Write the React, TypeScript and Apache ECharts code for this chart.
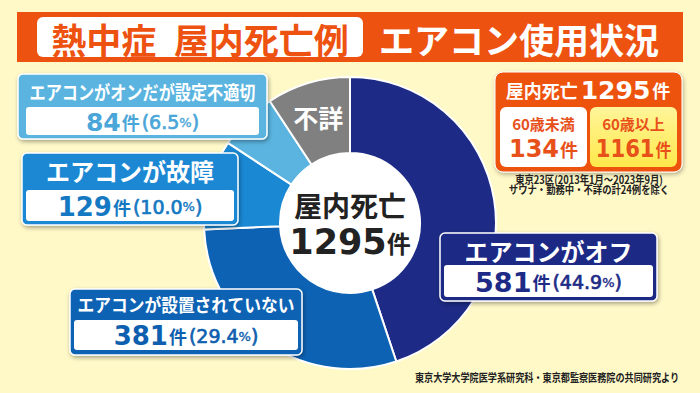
import React, { useEffect, useRef } from 'react';
import * as echarts from 'echarts';

// ---- data ----
const categories = ['エアコンがオフ', 'エアコンが設置されていない', 'エアコンが故障', 'エアコンがオンだが設定不適切', '不詳'];
const counts = [581, 381, 129, 84, 120];
const sliceColors = ['#1D2B86', '#0D62B4', '#1A88D3', '#5AB4DF', '#808080'];
const centerLabel = '屋内死亡';
const unit = '件';
const ageGroups = ['60歳未満', '60歳以上'];
const ageCounts = [134, 1161];
const titleLeft = '熱中症\u2002屋内死亡例';
const titleRight = 'エアコン使用状況';
const noteLines = ['東京23区(2013年1月～2023年9月)', 'サウナ・勤務中・不詳の計24例を除く'];
const sourceText = '東京大学大学院医学系研究科・東京都監察医務院の共同研究より';

const total = counts.reduce((a, b) => a + b, 0);
const pct = (v: number) => ((v / total) * 100).toFixed(1);

const JP = '"Noto Sans CJK JP", "Noto Sans", sans-serif';
const NUM = '"DejaVu Sans", sans-serif';
const ORANGE = '#EE5210';

type BoxSpec = {
  idx: number; x: number; y: number; w: number; h: number; fill: string; numColor: string;
  headFont: number; headScale: number; headY: number; inX: number; inY: number; inH: number; numSize: number;
};

const boxes: BoxSpec[] = [
  { idx: 0, x: 440, y: 233, w: 217, h: 68, fill: '#1D2B86', numColor: '#1D2B86', headFont: 24, headScale: 1, headY: 17, inX: 4, inY: 32, inH: 32, numSize: 27 },
  { idx: 1, x: 70, y: 289, w: 232, h: 66, fill: '#0D62B4', numColor: '#0E5FAF', headFont: 18, headScale: 0.93, headY: 15, inX: 4, inY: 31, inH: 30, numSize: 26 },
  { idx: 2, x: 22, y: 153, w: 216, h: 72, fill: '#1A88D3', numColor: '#1478C2', headFont: 24, headScale: 1, headY: 17, inX: 4, inY: 37, inH: 31, numSize: 26 },
  { idx: 3, x: 18, y: 74, w: 249, h: 65, fill: '#5AB4DF', numColor: '#4AA6D8', headFont: 19, headScale: 0.85, headY: 18, inX: 8, inY: 33, inH: 28, numSize: 25 },
];

const numTok = (size: number, color: string) => ({
  fontSize: size, fontWeight: 'bold', fontFamily: NUM, fill: color,
});

function buildGraphics() {
  const els: any[] = [];
  const center = { align: 'center', verticalAlign: 'middle', textAlign: 'center', textVerticalAlign: 'middle' };
  // title band
  els.push({ type: 'rect', z: 50, shape: { x: 17, y: 12, width: 666, height: 50 }, style: { fill: ORANGE } });
  els.push({ type: 'rect', z: 51, shape: { x: 37, y: 17, width: 326, height: 40, r: 6 }, style: { fill: '#fff' } });
  els.push({
    type: 'text', z: 52, x: 200, y: 38,
    style: { text: titleLeft, fill: ORANGE, fontSize: 35, fontWeight: 'bold', fontFamily: JP, ...center },
  });
  els.push({
    type: 'text', z: 52, x: 519, y: 38,
    style: { text: titleRight, fill: '#fff', fontSize: 35, fontWeight: 'bold', fontFamily: JP, ...center },
  });

  // category boxes
  boxes.forEach((b) => {
    const v = counts[b.idx];
    els.push({
      type: 'rect', z: 60, shape: { x: b.x, y: b.y, width: b.w, height: b.h, r: 5 },
      style: { fill: b.fill, stroke: '#fff', lineWidth: 1.5, shadowBlur: 4, shadowColor: 'rgba(0,0,0,0.35)', shadowOffsetX: 1, shadowOffsetY: 2 },
    });
    els.push({ type: 'rect', z: 61, shape: { x: b.x + b.inX, y: b.y + b.inY, width: b.w - 2 * b.inX, height: b.inH, r: 3 }, style: { fill: '#fff' } });
    els.push({
      type: 'text', z: 62, x: b.x + b.w / 2, y: b.y + b.headY, scaleX: b.headScale,
      style: { text: categories[b.idx], fill: '#fff', fontSize: b.headFont, fontWeight: 'bold', fontFamily: JP, ...center },
    });
    els.push({
      type: 'text', z: 62, x: b.x + b.w / 2, y: b.y + b.inY + b.inH / 2 + 1,
      style: {
        text: `{n|${v}}{k|${unit}}{p|(${pct(v)}}{s|%}{p|)}`,
        ...center,
        rich: {
          n: numTok(b.numSize, b.numColor),
          k: { fontSize: 18, fontWeight: 'bold', fontFamily: JP, fill: b.numColor, padding: [0, 2, 0, 1] },
          p: { fontSize: 19, fontWeight: 'normal', fontFamily: NUM, fill: b.numColor, stroke: b.numColor, lineWidth: 0.7 },
          s: { fontSize: 13, fontWeight: 'normal', fontFamily: NUM, fill: b.numColor, stroke: b.numColor, lineWidth: 0.4 },
        },
      },
    });
  });

  // right info box
  els.push({
    type: 'rect', z: 60, shape: { x: 495, y: 72, width: 187, height: 100, r: 8 },
    style: { fill: ORANGE, stroke: '#fff', lineWidth: 1, shadowBlur: 4, shadowColor: 'rgba(0,0,0,0.3)', shadowOffsetX: 1, shadowOffsetY: 2 },
  });
  els.push({
    type: 'text', z: 62, x: 588, y: 90,
    style: {
      text: `{a|${centerLabel}}{n|${total}}{k|${unit}}`,
      ...center,
      rich: {
        a: { fontSize: 18, fontWeight: 'bold', fontFamily: JP, fill: '#fff', padding: [0, 3, 0, 0] },
        n: numTok(25, '#fff'),
        k: { fontSize: 18, fontWeight: 'bold', fontFamily: JP, fill: '#fff', padding: [0, 0, 0, 2] },
      },
    },
  });
  const ageBoxX = [500, 590];
  ageGroups.forEach((g, i) => {
    const bx = ageBoxX[i];
    const fill = i === 0 ? '#fff' : new echarts.graphic.LinearGradient(0, 0, 0, 1, [
      { offset: 0, color: '#FFF59A' }, { offset: 1, color: '#FFE84A' },
    ]);
    els.push({ type: 'rect', z: 61, shape: { x: bx, y: 107, width: 87, height: 60, r: 6 }, style: { fill } });
    els.push({
      type: 'text', z: 62, x: bx + 43.5, y: 123,
      style: { text: g, fill: '#E8501A', fontSize: 15, fontWeight: 'bold', fontFamily: JP, ...center },
    });
    els.push({
      type: 'text', z: 62, x: bx + 43.5, y: 149, scaleX: i === 0 ? 1 : 0.88,
      style: {
        text: `{n|${ageCounts[i]}}{k|${unit}}`,
        ...center,
        rich: {
          n: numTok(24, '#E8501A'),
          k: { fontSize: 18, fontWeight: 'bold', fontFamily: JP, fill: '#E8501A', padding: [0, 0, 0, 1] },
        },
      },
    });
  });
  noteLines.forEach((t, i) => {
    els.push({
      type: 'text', z: 62, x: 589, y: 179 + i * 10, scaleX: 0.85,
      style: { text: t, fill: '#222', fontSize: 11, fontWeight: 'bold', fontFamily: JP, ...center },
    });
  });
  els.push({
    type: 'text', z: 62, x: 547, y: 377, scaleX: 0.83,
    style: { text: sourceText, fill: '#222', fontSize: 11, fontWeight: 'bold', fontFamily: JP, ...center },
  });
  return els;
}

export default function App() {
  const ref = useRef<HTMLDivElement>(null);
  useEffect(() => {
    if (!ref.current) return;
    const chart = echarts.init(ref.current, undefined, { renderer: 'svg', width: 700, height: 393 });
    const pieData = categories.map((name, i) => ({
      name,
      value: counts[i],
      itemStyle: { color: sliceColors[i] },
      label: i === 4
        ? { show: true, position: 'inside', formatter: '{b}', color: '#fff', fontSize: 25, fontWeight: 'bold', fontFamily: JP }
        : { show: false },
    }));
    chart.setOption({
      animation: false,
      backgroundColor: '#FFF9C8',
      textStyle: { fontFamily: JP },
      series: [
        {
          type: 'pie',
          center: [350, 223],
          radius: [70, 146],
          startAngle: 90,
          clockwise: true,
          silent: true,
          avoidLabelOverlap: false,
          itemStyle: { borderColor: '#fff', borderWidth: 2 },
          labelLine: { show: false },
          emphasis: { disabled: true },
          data: pieData,
        },
        {
          type: 'pie',
          center: [350, 223],
          radius: [0, 70],
          silent: true,
          emphasis: { disabled: true },
          itemStyle: { color: '#fff' },
          labelLine: { show: false },
          label: {
            show: true,
            position: 'center',
            formatter: () => `{a|${centerLabel}}\n{n|${total}}{k|${unit}}`,
            padding: [4, 0, 0, 0],
            rich: {
              a: { fontSize: 28, fontWeight: 'bold', fontFamily: JP, color: '#222', lineHeight: 34 },
              n: { fontSize: 35, fontWeight: 'bold', fontFamily: NUM, color: '#222', lineHeight: 40 },
              k: { fontSize: 24, fontWeight: 'bold', fontFamily: JP, color: '#222', lineHeight: 40 },
            },
          },
          data: [{ name: centerLabel, value: total }],
        },
      ],
      graphic: buildGraphics(),
    });
    return () => chart.dispose();
  }, []);
  return (
    <div style={{ position: 'fixed', left: 0, top: 0, width: 700, height: 393, background: '#FFF9C8' }}>
      <div ref={ref} style={{ width: 700, height: 393 }} />
    </div>
  );
}
